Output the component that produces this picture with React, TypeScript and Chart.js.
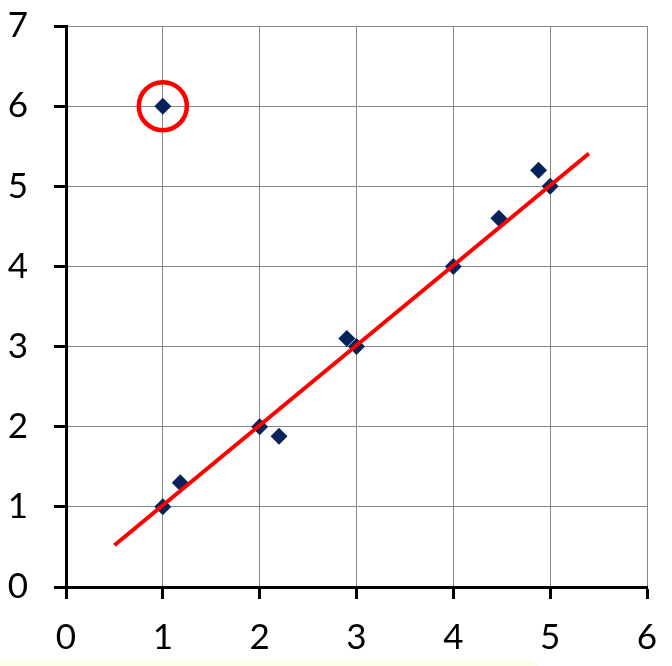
import React, { useEffect, useRef } from "react";
import { Chart, registerables } from "chart.js";

Chart.register(...registerables);

const pointsX = [1, 1, 1.18, 2, 2.2, 2.9, 3, 4, 4.47, 4.88, 5];
const pointsY = [6, 1, 1.3, 2, 1.88, 3.1, 3, 4, 4.6, 5.2, 5];
const fitX = [0.5, 5.4];
const fitY = [0.52, 5.41];
const outlierX = [1];
const outlierY = [6];
const xTicks = [0, 1, 2, 3, 4, 5, 6];
const yTicks = [0, 1, 2, 3, 4, 5, 6, 7];

const AREA = { left: 66, right: 647, top: 26, bottom: 587 };

export default function App() {
  const ref = useRef<HTMLCanvasElement>(null);
  useEffect(() => {
    document.body.style.margin = "0";
    const ctx = ref.current!;
    const font = { family: "Lato", size: 35 };
    const chart = new Chart(ctx, {
      type: "scatter",
      data: {
        datasets: [
          {
            type: "line",
            data: fitX.map((x, i) => ({ x, y: fitY[i] })),
            borderColor: "#FF0000",
            borderWidth: 4,
            pointRadius: 0,
            fill: false,
            order: 1,
          } as any,
          {
            data: outlierX.map((x, i) => ({ x, y: outlierY[i] })),
            pointStyle: "circle",
            pointRadius: 24,
            borderColor: "#FF0000",
            backgroundColor: "rgba(0,0,0,0)",
            borderWidth: 4.5,
            order: 2,
          },
          {
            data: pointsX.map((x, i) => ({ x, y: pointsY[i] })),
            pointStyle: "rectRot",
            pointRadius: 8.5,
            backgroundColor: "#06235C",
            borderColor: "#06235C",
            borderWidth: 0,
            order: 3,
          },
        ],
      },
      options: {
        animation: false,
        responsive: false,
        events: [],
        layout: { padding: { top: AREA.top, right: 672 - AREA.right, left: 0, bottom: 0 } },
        plugins: { legend: { display: false }, tooltip: { enabled: false } },
        scales: {
          x: {
            type: "linear",
            min: 0,
            max: 6,
            afterBuildTicks: (s: any) => {
              s.ticks = xTicks.map((v) => ({ value: v }));
            },
            afterFit: (s: any) => {
              s.height = 666 - AREA.bottom;
              s.paddingLeft = 0;
              s.paddingRight = 0;
            },
            grid: {
              color: "#888888",
              lineWidth: 1,
              tickColor: "#000000",
              tickWidth: 3,
              tickLength: 12,
            },
            border: { color: "#000000", width: 3 },
            ticks: { color: "#000000", font, padding: 18, maxRotation: 0 },
          },
          y: {
            type: "linear",
            min: 0,
            max: 7,
            afterBuildTicks: (s: any) => {
              s.ticks = yTicks.map((v) => ({ value: v }));
            },
            afterFit: (s: any) => {
              s.width = AREA.left;
              s.paddingTop = 0;
              s.paddingBottom = 0;
            },
            grid: {
              color: "#888888",
              lineWidth: 1,
              tickColor: "#000000",
              tickWidth: 3,
              tickLength: 12,
            },
            border: { color: "#000000", width: 3 },
            ticks: { color: "#000000", font, padding: 26 },
          },
        },
      },
      plugins: [
        {
          id: "fixArea",
          afterLayout(c: any) {
            const x = c.scales.x;
            const y = c.scales.y;
            c.chartArea.left = AREA.left;
            c.chartArea.right = AREA.right;
            c.chartArea.top = AREA.top;
            c.chartArea.bottom = AREA.bottom;
            c.chartArea.width = AREA.right - AREA.left;
            c.chartArea.height = AREA.bottom - AREA.top;
            x.left = AREA.left;
            x.right = AREA.right;
            x.width = AREA.right - AREA.left;
            x.top = AREA.bottom;
            x.bottom = 666;
            x.configure();
            y.top = AREA.top;
            y.bottom = AREA.bottom;
            y.height = AREA.bottom - AREA.top;
            y.left = 0;
            y.right = AREA.left;
            y.configure();
          },
        },
      ],
    });
    return () => chart.destroy();
  }, []);
  return (
    <div style={{ position: "relative", width: 672, height: 666, background: "#fff" }}>
      <canvas ref={ref} width={672} height={666} style={{ display: "block" }} />
      <div
        style={{
          position: "absolute",
          left: 0,
          top: 660,
          width: 538,
          height: 6,
          background: "#FDFDEC",
        }}
      />
    </div>
  );
}
